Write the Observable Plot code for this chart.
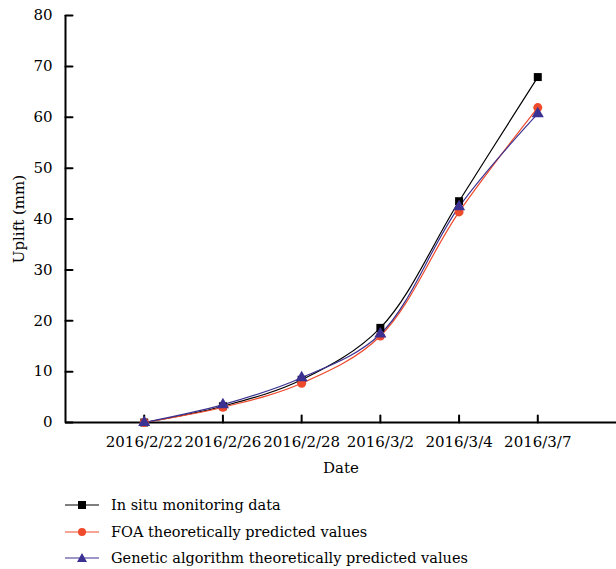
<!DOCTYPE html>
<html><head><meta charset="utf-8">
<script src="https://cdn.jsdelivr.net/npm/d3@7"></script>
<script src="https://cdn.jsdelivr.net/npm/@observablehq/plot@0.6"></script>
<style>
body{margin:0;background:#fff;font-family:"DejaVu Serif",serif;color:#000;}
#legend{margin-top:12px;padding-left:65px;font-size:14.5px;}
.row{height:26.5px;display:flex;align-items:center;}
.row svg{width:34px;height:14px;margin-right:12px;overflow:visible;}
</style>
</head><body>
<div id="chart"></div>
<div id="legend"></div>
<script>
const dates = ["2016/2/22","2016/2/26","2016/2/28","2016/3/2","2016/3/4","2016/3/7"];
const inSitu = [0, 3.2, 8.4, 18.6, 43.5, 67.9];
const foa = [0, 3.0, 7.7, 17.0, 41.4, 61.9];
const ga = [0, 3.5, 8.8, 17.4, 42.4, 60.7];
const seriesNames = ["In situ monitoring data","FOA theoretically predicted values","Genetic algorithm theoretically predicted values"];
const seriesValues = [inSitu, foa, ga];
const colors = ["#000000","#ef4a2b","#3b3192"];
const symbols = ["square","circle","triangle"];
const yTicks = [0,10,20,30,40,50,60,70,80];

const rows = [];
seriesNames.forEach((s, k) => seriesValues[k].forEach((v, i) => rows.push({i: i + 1, v, s})));
const idx = dates.map((d, i) => i + 1);

const tickShape = {draw(c, l) { c.moveTo(0, 0); c.lineTo(0, -l); }};

const chart = Plot.plot({
  width: 616, height: 480,
  marginLeft: 65, marginRight: 0, marginTop: 15, marginBottom: 58,
  style: {fontFamily: "DejaVu Serif", fontSize: "15px", color: "#000", background: "#fff"},
  x: {domain: [0, 7]},
  y: {domain: [0, 80]},
  color: {domain: seriesNames, range: colors},
  symbol: {domain: seriesNames, range: symbols},
  marks: [
    Plot.axisY({ticks: yTicks, tickSize: 0, tickPadding: 13, label: "Uplift (mm)", labelAnchor: "center", labelArrow: "none", labelOffset: 52}),
    Plot.axisX({ticks: idx, tickFormat: d => dates[d - 1], tickSize: 0, tickPadding: 14, label: "Date", labelAnchor: "center", labelArrow: "none", labelOffset: 50}),
    Plot.vector(yTicks, {x: 0, y: d => d, length: 7, rotate: 90, anchor: "start", shape: tickShape, stroke: "#000", strokeWidth: 2}),
    Plot.vector(idx, {x: d => d, y: 0, length: 7, rotate: 0, anchor: "start", shape: tickShape, stroke: "#000", strokeWidth: 2}),
    Plot.ruleX([0], {stroke: "#000", strokeWidth: 2}),
    Plot.ruleY([0], {stroke: "#000", strokeWidth: 2}),
    Plot.line(rows, {x: "i", y: "v", stroke: "s", z: "s", curve: "catmull-rom", strokeWidth: 1.2}),
    Plot.dot(rows, {x: "i", y: "v", fill: "s", symbol: "s", r: 4.5, stroke: "none"})
  ]
});
document.getElementById("chart").appendChild(chart);

const sym = {
  square: '<rect x="13" y="3" width="8" height="8" />',
  circle: '<circle cx="17" cy="7" r="4"/>',
  triangle: '<path d="M17,2 L22,11 L12,11 Z"/>'
};
const leg = document.getElementById("legend");
seriesNames.forEach((s, k) => {
  const r = document.createElement("div");
  r.className = "row";
  r.innerHTML = `<svg viewBox="0 0 34 14"><line x1="0" x2="34" y1="7" y2="7" stroke="${colors[k]}" stroke-width="1.2"/><g fill="${colors[k]}">${sym[symbols[k]]}</g></svg><span>${s}</span>`;
  leg.appendChild(r);
});
</script>
</body></html>
